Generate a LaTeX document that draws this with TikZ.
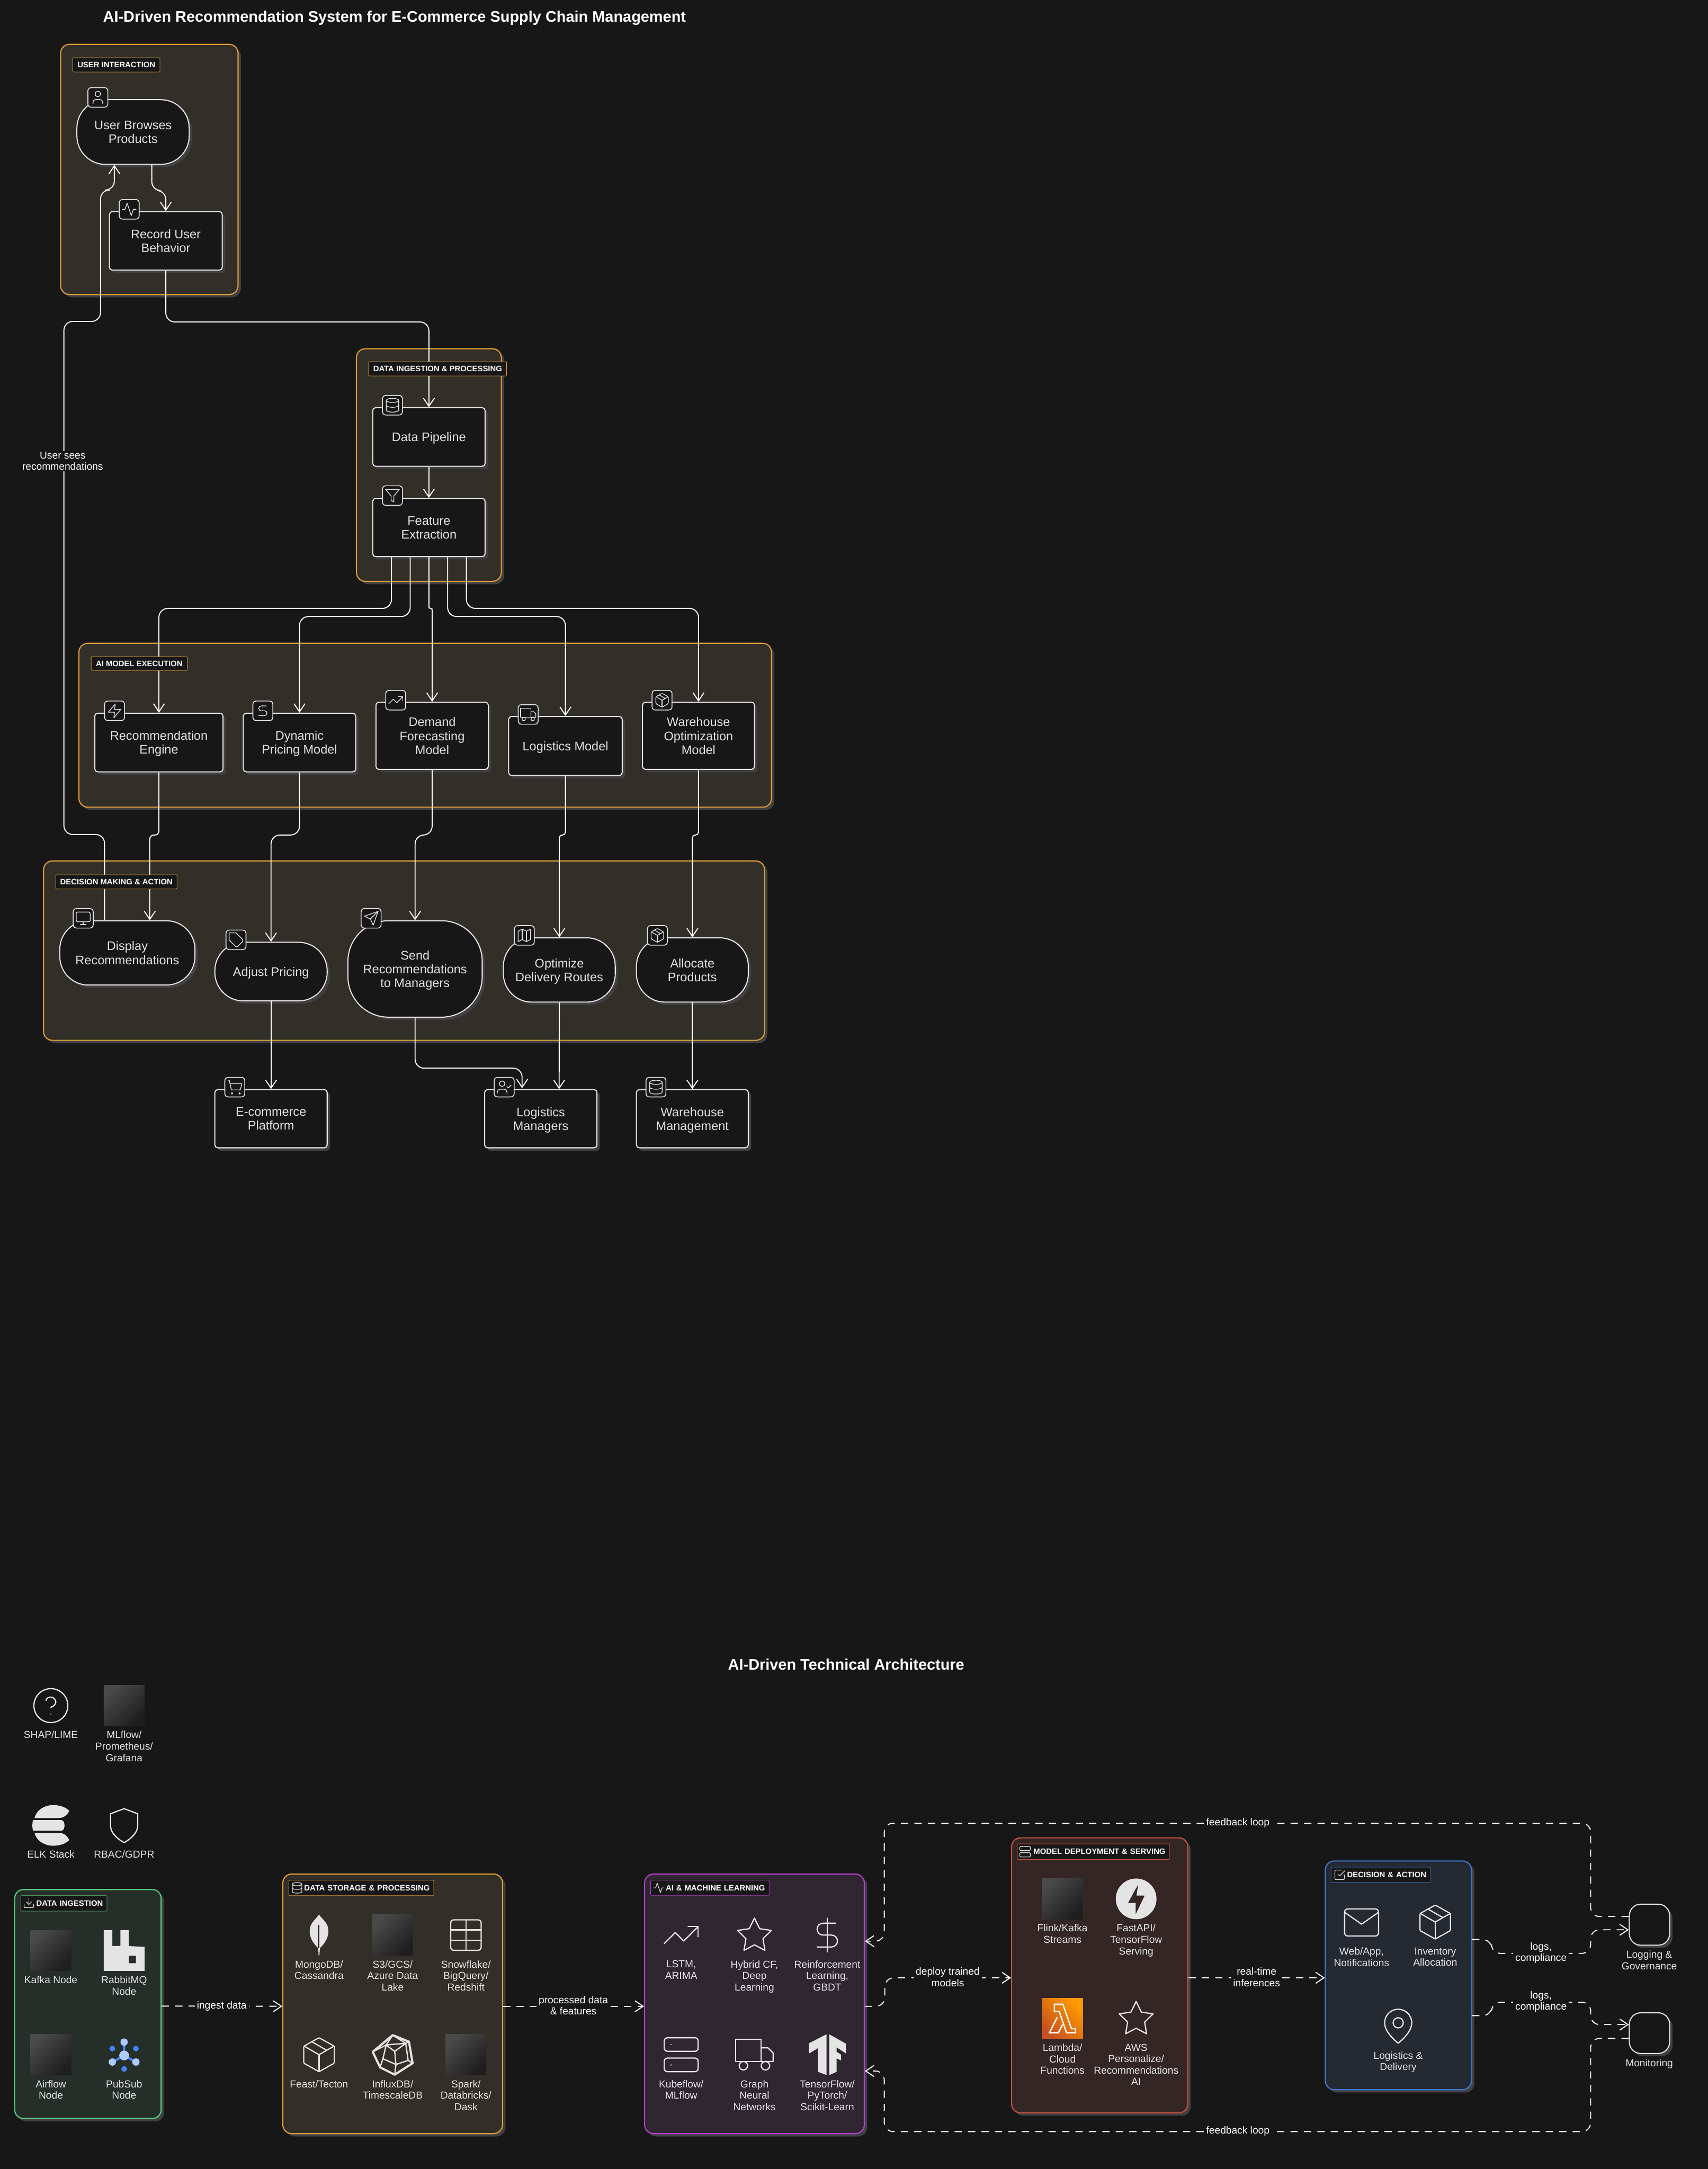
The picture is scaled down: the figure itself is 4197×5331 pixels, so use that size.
\documentclass[tikz,border=0pt]{standalone}
\usepackage{fontspec}
\setmainfont{Liberation Sans}
\usetikzlibrary{arrows.meta,shadows}
\definecolor{bgDark}{HTML}{171717}
\definecolor{shadowGrey}{HTML}{404042}
\definecolor{iconWhite}{HTML}{E4E4E4}
\definecolor{nodeText}{HTML}{E2E2E2}
\definecolor{panelOrange}{HTML}{DD9C37}
\definecolor{fillOrange}{HTML}{322F28}
\definecolor{panelGreen}{HTML}{5BCB7C}
\definecolor{fillGreen}{HTML}{262E29}
\definecolor{panelPurple}{HTML}{B63FCB}
\definecolor{fillPurple}{HTML}{2F2632}
\definecolor{panelRed}{HTML}{C9503F}
\definecolor{fillRed}{HTML}{352626}
\definecolor{panelBlue}{HTML}{3F78D0}
\definecolor{fillBlue}{HTML}{242932}
\definecolor{googleBlue}{HTML}{4285F4}
\definecolor{googleLight}{HTML}{AECBFA}
\definecolor{imgLight}{HTML}{4A4A4A}
\definecolor{imgDark}{HTML}{1E1E1E}
\definecolor{lambdaLight}{HTML}{FF9900}
\definecolor{lambdaDark}{HTML}{C7511F}
\tikzset{
  icon/.style={draw=iconWhite, line cap=round, line join=round, shift={(-12,-12)}},
  glyph/.style={fill=iconWhite, even odd rule},
  smallico/.style={scale=1.7, line width=0.5pt},
  tagico/.style={scale=1.3, line width=0.45pt},
  bigico/.style={scale=4.17, line width=0.85pt},
  iuser/.pic={\draw[icon] (12,7) circle[radius=4];
    \draw[icon] (19,21) -- (19,19) .. controls (19,16.8) and (17.2,15) .. (15,15) -- (9,15) .. controls (6.8,15) and (5,16.8) .. (5,19) -- (5,21);},
  iusercheck/.pic={\draw[icon] (9,7) circle[radius=4];
    \draw[icon] (16,21) -- (16,19) .. controls (16,16.8) and (14.2,15) .. (12,15) -- (6,15) .. controls (3.8,15) and (2,16.8) .. (2,19) -- (2,21);
    \draw[icon] (16,11) -- (18,13) -- (22,9);},
  iactivity/.pic={\draw[icon] (22,12) -- (18,12) -- (15,21) -- (9,3) -- (6,12) -- (2,12);},
  idatabase/.pic={\draw[icon] (12,5) ellipse[x radius=9,y radius=3];
    \draw[icon] (3,5) -- (3,19) .. controls (3,20.66) and (7,22) .. (12,22) .. controls (17,22) and (21,20.66) .. (21,19) -- (21,5);
    \draw[icon] (3,12) .. controls (3,13.66) and (7,15) .. (12,15) .. controls (17,15) and (21,13.66) .. (21,12);},
  ifilter/.pic={\draw[icon] (22,3) -- (2,3) -- (10,12.46) -- (10,19) -- (14,21) -- (14,12.46) -- cycle;},
  izap/.pic={\draw[icon] (13,2) -- (3,14) -- (12,14) -- (11,22) -- (21,10) -- (12,10) -- cycle;},
  idollar/.pic={\draw[icon] (12,2) -- (12,22);
    \draw[icon] (17,5) -- (9.5,5) .. controls (7.57,5) and (6,6.57) .. (6,8.5) .. controls (6,10.43) and (7.57,12) .. (9.5,12) -- (14.5,12) .. controls (16.43,12) and (18,13.57) .. (18,15.5) .. controls (18,17.43) and (16.43,19) .. (14.5,19) -- (6,19);},
  itrending/.pic={\draw[icon] (22,7) -- (13.5,15.5) -- (8.5,10.5) -- (2,17);
    \draw[icon] (16,7) -- (22,7) -- (22,13);},
  itruck/.pic={\draw[icon] (1,3) rectangle (16,16);
    \draw[icon] (16,8) -- (20,8) -- (23,11) -- (23,16) -- (16,16) -- cycle;
    \draw[icon] (5.5,18.5) circle[radius=2.5];
    \draw[icon] (18.5,18.5) circle[radius=2.5];},
  ipackage/.pic={\draw[icon, rounded corners=0.02cm] (12,2) -- (21,7) -- (21,17) -- (12,22) -- (3,17) -- (3,7) -- cycle;
    \draw[icon] (3.3,7) -- (12,12) -- (20.7,7);
    \draw[icon] (12,22) -- (12,12);
    \draw[icon] (16.5,9.4) -- (7.5,4.2);},
  imonitor/.pic={\draw[icon, rounded corners=0.03cm] (2,3) rectangle (22,17);
    \draw[icon] (8,21) -- (16,21);
    \draw[icon] (12,17) -- (12,21);},
  itag/.pic={\draw[icon] (12,2) -- (2,2) -- (2,12) -- (11.29,21.29) .. controls (12.23,22.23) and (13.77,22.23) .. (14.71,21.29) -- (21.29,14.71) .. controls (22.23,13.77) and (22.23,12.23) .. (21.29,11.29) -- cycle;},
  isend/.pic={\draw[icon] (22,2) -- (15,22) -- (11,13) -- (2,9) -- cycle;
    \draw[icon] (22,2) -- (11,13);},
  imap/.pic={\draw[icon] (3,6) -- (9,3) -- (15,6) -- (21,3) -- (21,18) -- (15,21) -- (9,18) -- (3,21) -- cycle;
    \draw[icon] (9,3) -- (9,18);
    \draw[icon] (15,6) -- (15,21);},
  icart/.pic={\draw[icon] (8,21) circle[radius=1];
    \draw[icon] (19,21) circle[radius=1];
    \draw[icon] (2.05,2.05) -- (4.05,2.05) -- (6.71,14.47) .. controls (6.9,15.4) and (7.75,16.05) .. (8.7,16.05) -- (18.48,16.05) .. controls (19.43,16.05) and (20.25,15.4) .. (20.43,14.48) -- (22.08,7.05) -- (5.12,7.05);},
  idownload/.pic={\draw[icon] (21,15) -- (21,19) .. controls (21,20.1) and (20.1,21) .. (19,21) -- (5,21) .. controls (3.9,21) and (3,20.1) .. (3,19) -- (3,15);
    \draw[icon] (7,10) -- (12,15) -- (17,10);
    \draw[icon] (12,15) -- (12,3);},
  icheck/.pic={\draw[icon] (9,11) -- (12,14) -- (22,4);
    \draw[icon] (21,12) -- (21,19) .. controls (21,20.1) and (20.1,21) .. (19,21) -- (5,21) .. controls (3.9,21) and (3,20.1) .. (3,19) -- (3,5) .. controls (3,3.9) and (3.9,3) .. (5,3) -- (16,3);},
  iserver/.pic={\draw[icon, rounded corners=#1] (2,2) rectangle (22,10);
    \draw[icon, rounded corners=#1] (2,14) rectangle (22,22);
    \draw[icon] (6,6) -- (6.01,6);
    \draw[icon] (6,18) -- (6.01,18);},
  ihelp/.pic={\draw[icon] (12,12) circle[radius=10];
    \draw[icon] (9.09,9) .. controls (9.5,7.5) and (11,6.8) .. (12.2,7) .. controls (13.8,7.2) and (15,8.6) .. (14.92,10) .. controls (14.92,12) and (12,13) .. (12,13);
    \draw[icon] (12,17) -- (12.01,17);},
  ishield/.pic={\draw[icon] (12,22) .. controls (12,22) and (20,18) .. (20,12) -- (20,5) -- (12,2) -- (4,5) -- (4,12) .. controls (4,18) and (12,22) .. (12,22) -- cycle;},
  itable/.pic={\draw[icon, rounded corners=0.08cm] (3,3) rectangle (21,21);
    \draw[icon] (3,9) -- (21,9);
    \draw[icon] (3,15) -- (21,15);
    \draw[icon] (12,3) -- (12,21);},
  istar/.pic={\draw[icon] (12,2) -- (15.09,8.26) -- (22,9.27) -- (17,14.14) -- (18.18,21.02) -- (12,17.77) -- (5.82,21.02) -- (7,14.14) -- (2,9.27) -- (8.91,8.26) -- cycle;},
  imail/.pic={\draw[icon, rounded corners=0.08cm] (2,4) rectangle (22,20);
    \draw[icon] (22,6) -- (12,13) -- (2,6);},
  ipin/.pic={\draw[icon] (20,10) .. controls (20,16) and (12,22) .. (12,22) .. controls (12,22) and (4,16) .. (4,10) .. controls (4,5.58) and (7.58,2) .. (12,2) .. controls (16.42,2) and (20,5.58) .. (20,10) -- cycle;
    \draw[icon] (12,10) circle[radius=3];},
  ielk/.pic={\fill[glyph] (-40,-18) .. controls (-36,-38) and (-15,-50) .. (5,-50) .. controls (22,-50) and (36,-45) .. (45,-36) .. controls (40,-24) and (30,-18) .. (18,-18) -- cycle;
    \fill[glyph] (-44,-13) -- (26,-13) .. controls (36,-13) and (36,13) .. (26,13) -- (-44,13) .. controls (-46,5) and (-46,-5) .. (-44,-13) -- cycle;
    \fill[glyph] (-40,18) .. controls (-36,38) and (-15,50) .. (5,50) .. controls (22,50) and (36,45) .. (45,36) .. controls (40,24) and (30,18) .. (18,18) -- cycle;},
  irabbit/.pic={\fill[glyph] (-50,-50) -- (-29,-50) -- (-29,-11) -- (-9,-11) -- (-9,-50) -- (11,-50) -- (11,-11) -- (31,-10) -- (50,-9) -- (50,50) -- (-50,50) -- cycle
    (11,13) -- (29,13) -- (29,31) -- (11,31) -- cycle;},
  ipubsub/.pic={\draw[line width=1.6pt, color=googleBlue] (0,-33) -- (0,0) -- (-28,16) (0,0) -- (29,16);
    \fill[googleLight] (0,0) circle[radius=12];
    \fill[googleLight] (0,-33) circle[radius=9];
    \fill[googleLight] (-29,16) circle[radius=9];
    \fill[googleLight] (29,16) circle[radius=9];
    \fill[googleBlue] (-29,-17) circle[radius=7];
    \fill[googleBlue] (29,-17) circle[radius=7];
    \fill[googleBlue] (0,33) circle[radius=7];},
  imongo/.pic={\fill[glyph] (0,-50) .. controls (12,-35) and (23,-28) .. (23,-10) .. controls (23,12) and (8,26) .. (2,32) -- (1,50) -- (-1,50) -- (-2,32) .. controls (-8,26) and (-23,12) .. (-23,-10) .. controls (-23,-28) and (-12,-35) .. (0,-50) -- cycle;
    \draw[color=bgDark, line width=0.7pt] (0,-25) -- (0,32);},
  iinflux/.pic={\draw[draw=iconWhite, line width=1.5pt, line join=round] (0,-48) -- (40,-32) -- (49,21) -- (5,49) -- (-31,31) -- (-49,-7) -- cycle;
    \draw[draw=iconWhite, line width=0.9pt, line join=round] (-16,-24) -- (32,-28) -- (38,14) -- (8,24) -- (-24,10) -- cycle
      (0,-48) -- (-16,-24) (0,-48) -- (32,-28) (40,-32) -- (32,-28) (49,21) -- (38,14) (5,49) -- (8,24) (-31,31) -- (-24,10) (-49,-7) -- (-16,-24) (8,24) -- (5,-8) -- (-16,-24) (5,-8) -- (32,-28);},
  itensor/.pic={\fill[glyph] (-45,-28) -- (-2,-50) -- (-2,50) -- (-23,42) -- (-23,-16) -- (-45,-3) -- cycle;
    \fill[glyph] (5,-50) -- (46,-27) -- (46,-3) -- (23,-18) -- (23,-7) -- (34,0) -- (34,14) -- (23,9) -- (23,42) -- (5,50) -- cycle;},
  ifastapi/.pic={\fill[glyph] (0,0) circle[radius=50]
    (5,-36) -- (-20,10) -- (-1,10) -- (-1,38) -- (21,-8) -- (1,-8) -- cycle;},
  ilambda/.pic={\draw[draw=white, line width=0.9pt, line join=miter] (-20,-35) -- (1,-35) -- (22,25) -- (32,25) -- (32,35) -- (10,35) -- (-8,-17) -- (-20,-17) -- cycle
    (-13,-3) -- (-32,35) -- (-10,35) -- (0,15);}
}
\begin{document}
\begin{tikzpicture}[
    x=0.01cm, y=-0.01cm,
    size/.style 2 args={minimum width=#1*0.01cm, minimum height=#2*0.01cm},
    softdrop/.style={general shadow={fill=shadowGrey, shadow xshift=0.07cm, shadow yshift=-0.07cm}},
    panel/.style={rectangle, softdrop, inner sep=0pt, rounded corners=0.22cm, line width=0.8pt},
    orange panel/.style={panel, draw=panelOrange, fill=fillOrange},
    box/.style={rectangle, softdrop, draw=iconWhite, fill=bgDark, text=nodeText, rounded corners=0.07cm, inner sep=0pt, line width=0.75pt, align=center, text depth=-0.05cm, font=\fontsize{8.7}{9.67}\selectfont},
    round box/.style={box, rounded corners=0.7cm},
    iconbox/.style={rectangle, draw=iconWhite, fill=bgDark, rounded corners=0.08cm, inner sep=0pt, minimum width=0.49cm, minimum height=0.48cm, line width=0.6pt},
    tagbox/.style={rectangle, fill=bgDark, text=white, inner sep=0pt, line width=0.3pt, rounded corners=0.02cm, font=\fontsize{5.5}{6.5}\selectfont\bfseries},
    icontag/.style={tagbox, inner xsep=0.1cm, align=right, text width=#1*0.01cm-0.2cm, minimum height=0.38cm},
    flow/.style={draw=white, line width=0.7pt, rounded corners=0.22cm, -{Straight Barb[length=0.2cm,width=0.27cm]}},
    dflow/.style={flow, dash pattern=on 0.18cm off 0.15cm},
    edgelabel/.style={rectangle, fill=bgDark, text=white, inner xsep=0.05cm, inner ysep=0.02cm, align=center, font=\fontsize{7.1}{7.97}\selectfont},
    caption/.style={text=iconWhite, inner sep=0pt, anchor=north, align=center, font=\fontsize{7.1}{7.97}\selectfont},
    blank/.style={rectangle, minimum width=1cm, minimum height=1cm, inner sep=0pt, shading=axis, top color=imgLight, bottom color=imgDark, shading angle=45},
    title/.style={text=white, inner sep=0pt, font=\fontsize{10.7}{12}\selectfont\bfseries}
]
\useasboundingbox (0,0) rectangle (4197,5331);
\fill[bgDark] (0,0) rectangle (4197,5331);

\node[title] (topTitle) at (969.5,44) {AI-Driven Recommendation System for E-Commerce Supply Chain Management};

\node[orange panel, size={436}{615}] (userPanel) at (367,416.5) {};
\node[orange panel, size={356}{572}] (dataPanel) at (1054,1143) {};
\node[orange panel, size={1702}{403}] (aiPanel) at (1045,1782.5) {};
\node[orange panel, size={1772}{441}] (decisionPanel) at (993,2336.5) {};

\node[round box, size={276}{159}] (user) at (327,324.5) {User Browses\\Products};
\node[box, size={277}{144}] (record) at (407.5,592) {Record User\\Behavior};
\node[box, size={276}{144}] (pipeline) at (1054,1074) {Data Pipeline};
\node[box, size={276}{143}] (feature) at (1054,1296.5) {Feature\\Extraction};
\node[box, size={315}{144}] (recommendation) at (390.5,1825) {Recommendation\\Engine};
\node[box, size={276}{144}] (dynamic) at (736,1825) {Dynamic\\Pricing Model};
\node[box, size={276}{165}] (demand) at (1062,1808.5) {Demand\\Forecasting\\Model};
\node[box, size={279}{145}] (logisticsModel) at (1389.5,1833.5) {Logistics Model};
\node[box, size={275}{165}] (warehouseModel) at (1716.5,1808.5) {Warehouse\\Optimization\\Model};
\node[round box, size={332}{158}] (display) at (313,2342) {Display\\Recommendations};
\node[round box, size={276}{144}] (adjust) at (666,2388) {Adjust Pricing};
\node[round box, rounded corners=1cm, size={330}{237}] (send) at (1020,2381.5) {Send\\Recommendations\\to Managers};
\node[round box, size={275}{158}] (optimize) at (1374.5,2384) {Optimize\\Delivery Routes};
\node[round box, size={275}{158}] (allocate) at (1701.5,2384) {Allocate\\Products};
\node[box, size={276}{143}] (ecommerce) at (666,2749.5) {E-commerce\\Platform};
\node[box, size={276}{143}] (managers) at (1329,2749.5) {Logistics\\Managers};
\node[box, size={275}{143}] (warehouse) at (1701.5,2749.5) {Warehouse\\Management};

\draw[flow] ([xshift=0.46cm]user.south) -- ++(0,63) -| (record.north);
\draw[flow] (record.south) -- ++(0,126) -| (pipeline.north);
\draw[flow] (pipeline.south) -- (feature.north);
\draw[flow] ([xshift=-0.92cm]feature.south) -- ++(0,126) -| (recommendation.north);
\draw[flow] ([xshift=-0.46cm]feature.south) -- ++(0,146) -| (dynamic.north);
\draw[flow, rounded corners=0.04cm] (feature.south) -- ++(0,126) -| (demand.north);
\draw[flow] ([xshift=0.46cm]feature.south) -- ++(0,146) -| (logisticsModel.north);
\draw[flow] ([xshift=0.92cm]feature.south) -- ++(0,126) -| (warehouseModel.north);
\draw[flow, rounded corners=0.1cm] (recommendation.south) -- ++(0,154) -| ([xshift=0.55cm]display.north);
\draw[flow] (dynamic.south) -- ++(0,154) -| (adjust.north);
\draw[flow] (demand.south) -- ++(0,160) -| (send.north);
\draw[flow, rounded corners=0.07cm] (logisticsModel.south) -- ++(0,145) -| (optimize.north);
\draw[flow, rounded corners=0.07cm] (warehouseModel.south) -- ++(0,160) -| (allocate.north);
\draw[flow] ([xshift=-0.56cm]display.north) |- (157,2051) |- (247,790) |- (281,467) -- ([xshift=-0.46cm]user.south);
\draw[flow] (adjust.south) -- (ecommerce.north);
\draw[flow] (send.south) -- ++(0,124) -| ([xshift=-0.46cm,yshift=0.02cm]managers.north);
\draw[flow] (optimize.south) -- ([xshift=0.45cm]managers.north);
\draw[flow] (allocate.south) -- (warehouse.north);

\node[edgelabel] (seesLabel) at (154,1133) {User sees\\recommendations};

\node[tagbox, draw=panelOrange, size={214}{35}] (userTag) at (286,159.5) {USER INTERACTION};
\node[tagbox, draw=panelOrange, size={339}{35}] (dataTag) at (1075.5,906.5) {DATA INGESTION \& PROCESSING};
\node[tagbox, draw=panelOrange, size={236}{34}] (aiTag) at (342,1631) {AI MODEL EXECUTION};
\node[tagbox, draw=panelOrange, size={298}{35}] (decisionTag) at (286,2167.5) {DECISION MAKING \& ACTION};

\node[iconbox] (userIcon) at (240.5,239.5) {}; \pic[smallico] at (userIcon) {iuser};
\node[iconbox] (recordIcon) at (317.5,514.5) {}; \pic[smallico] at (recordIcon) {iactivity};
\node[iconbox] (pipelineIcon) at (964.5,996) {}; \pic[smallico] at (pipelineIcon) {idatabase};
\node[iconbox] (featureIcon) at (964.5,1218) {}; \pic[smallico] at (featureIcon) {ifilter};
\node[iconbox] (recommendationIcon) at (281.5,1747) {}; \pic[smallico] at (recommendationIcon) {izap};
\node[iconbox] (dynamicIcon) at (646,1747) {}; \pic[smallico] at (dynamicIcon) {idollar};
\node[iconbox] (demandIcon) at (972.5,1721) {}; \pic[smallico] at (demandIcon) {itrending};
\node[iconbox] (logisticsIcon) at (1298,1756) {}; \pic[smallico] at (logisticsIcon) {itruck};
\node[iconbox] (warehouseIcon) at (1627,1721) {}; \pic[smallico] at (warehouseIcon) {ipackage};
\node[iconbox] (displayIcon) at (204.5,2257) {}; \pic[smallico] at (displayIcon) {imonitor};
\node[iconbox] (adjustIcon) at (580,2310) {}; \pic[smallico] at (adjustIcon) {itag};
\node[iconbox] (sendIcon) at (912,2257) {}; \pic[smallico] at (sendIcon) {isend};
\node[iconbox] (optimizeIcon) at (1288.5,2299) {}; \pic[smallico] at (optimizeIcon) {imap};
\node[iconbox] (allocateIcon) at (1615.5,2299) {}; \pic[smallico] at (allocateIcon) {ipackage};
\node[iconbox] (ecommerceIcon) at (577,2672) {}; \pic[smallico] at (ecommerceIcon) {icart};
\node[iconbox] (managersIcon) at (1239,2672) {}; \pic[smallico] at (managersIcon) {iusercheck};
\node[iconbox] (warehouseMgmtIcon) at (1612,2672) {}; \pic[smallico] at (warehouseMgmtIcon) {idatabase};

\node[title] (bottomTitle) at (2079.5,4091) {AI-Driven Technical Architecture};

\pic[bigico] at (125,4192) {ihelp};
\node[caption] (shap) at (125,4254) {SHAP/LIME};
\node[blank] (mlflowImg) at (305,4192) {};
\node[caption] (mlflow) at (305,4254) {MLflow/\\Prometheus/\\Grafana};
\pic at (125,4486.5) {ielk};
\node[caption] (elk) at (125,4547) {ELK Stack};
\pic[bigico] at (305,4487) {ishield};
\node[caption] (rbac) at (305,4547) {RBAC/GDPR};

\node[panel, draw=panelGreen, fill=fillGreen, size={360}{563}] (ingestPanel) at (216,4925.5) {};
\node[orange panel, size={540}{638}] (storagePanel) at (965,4925) {};
\node[panel, draw=panelPurple, fill=fillPurple, size={540}{638}] (mlPanel) at (1854,4925) {};
\node[panel, draw=panelRed, fill=fillRed, size={433}{676}] (deployPanel) at (2702.5,4855) {};
\node[panel, draw=panelBlue, fill=fillBlue, size={359}{562}] (actionPanel) at (3436.5,4855) {};
\node[box, rounded corners=0.28cm, size={99}{101}] (logging) at (4053.5,4730.5) {};
\node[box, rounded corners=0.28cm, size={99}{100}] (monitoring) at (4053.5,4997) {};

\draw[dflow] ([yshift=-0.05cm]ingestPanel.east) -- ([yshift=-0.06cm]storagePanel.west);
\draw[dflow] ([yshift=-0.06cm]storagePanel.east) -- ([yshift=-0.06cm]mlPanel.west);
\draw[dflow] ([yshift=-0.06cm]mlPanel.east) -- ++(49,0) |- ([yshift=-0.06cm]deployPanel.west);
\draw[dflow] ([yshift=-0.06cm]deployPanel.east) -- ([yshift=-0.06cm]actionPanel.west);
\draw[dflow] ([yshift=0.88cm]actionPanel.east) -- ++(48,0) |- (3909,4801) |- ([yshift=-0.125cm]logging.west);
\draw[dflow] ([yshift=-0.99cm]actionPanel.east) -- ++(48,0) |- (3909,4921) |- ([yshift=0.21cm]monitoring.west);
\draw[dflow] ([yshift=0.2cm]logging.west) -| (3909,4481) -| (2173,4771) -- ([yshift=1.54cm]mlPanel.east);
\draw[dflow] ([yshift=-0.13cm]monitoring.west) -| (3909,5239) -| (2173,5090) -- ([yshift=-1.65cm]mlPanel.east);

\node[edgelabel] (ingestLabel) at (545,4931) {ingest data};
\node[edgelabel] (processedLabel) at (1409,4929) {processed data\\\& features};
\node[edgelabel] (deployLabel) at (2329,4859) {deploy trained\\models};
\node[edgelabel] (realtimeLabel) at (3088,4859) {real-time\\inferences};
\node[edgelabel] (logsTopLabel) at (3787,4800) {logs,\\compliance};
\node[edgelabel] (logsBottomLabel) at (3787,4920) {logs,\\compliance};
\node[edgelabel] (feedbackTopLabel) at (3042,4480) {feedback loop};
\node[edgelabel] (feedbackBottomLabel) at (3042,5238) {feedback loop};

\node[icontag=212, draw=panelGreen] (ingestTag) at (157,4678) {DATA INGESTION};
\pic[tagico] at (71,4677) {idownload};
\node[blank] (kafkaImg) at (125,4794) {};
\node[caption] (kafka) at (125,4856) {Kafka Node};
\pic at (305,4794) {irabbit};
\node[caption] (rabbit) at (305,4856) {RabbitMQ\\Node};
\node[blank] (airflowImg) at (125,5050) {};
\node[caption] (airflow) at (125,5112) {Airflow\\Node};
\pic at (305,5052) {ipubsub};
\node[caption] (pubsub) at (305,5112) {PubSub\\Node};

\node[icontag=356, draw=panelOrange] (storageTag) at (888,4640) {DATA STORAGE \& PROCESSING};
\pic[tagico] at (730,4640) {idatabase};
\pic at (784,4756) {imongo};
\node[caption] (mongo) at (784,4818) {MongoDB/\\Cassandra};
\node[blank] (lakeImg) at (965,4756) {};
\node[caption] (lake) at (965,4818) {S3/GCS/\\Azure Data\\Lake};
\pic[bigico] at (1145,4756) {itable};
\node[caption] (snowflake) at (1145,4818) {Snowflake/\\BigQuery/\\Redshift};
\pic[bigico] at (784,5050) {ipackage};
\node[caption] (feast) at (784,5112) {Feast/Tecton};
\pic at (965,5050) {iinflux};
\node[caption] (influx) at (965,5112) {InfluxDB/\\TimescaleDB};
\node[blank] (sparkImg) at (1145,5050) {};
\node[caption] (spark) at (1145,5112) {Spark/\\Databricks/\\Dask};

\node[icontag=291, draw=panelPurple] (mlTag) at (1744.5,4640) {AI \& MACHINE LEARNING};
\pic[tagico] at (1619,4640) {iactivity};
\pic[bigico] at (1674,4756) {itrending};
\node[caption] (lstm) at (1674,4818) {LSTM,\\ARIMA};
\pic[bigico] at (1854,4756) {istar};
\node[caption] (hybrid) at (1854,4818) {Hybrid CF,\\Deep\\Learning};
\pic[bigico] at (2033,4756) {idollar};
\node[caption] (reinforcement) at (2033,4818) {Reinforcement\\Learning,\\GBDT};
\pic[bigico] at (1674,5050) {iserver=0.08cm};
\node[caption] (kubeflow) at (1674,5112) {Kubeflow/\\MLflow};
\pic[bigico] at (1854,5050) {itruck};
\node[caption] (graph) at (1854,5112) {Graph\\Neural\\Networks};
\pic at (2033,5050) {itensor};
\node[caption] (tensorflow) at (2033,5112) {TensorFlow/\\PyTorch/\\Scikit-Learn};

\node[icontag=374, draw=panelRed] (deployTag) at (2687,4551) {MODEL DEPLOYMENT \& SERVING};
\pic[tagico] at (2519,4551) {iserver=0.02cm};
\node[blank] (flinkImg) at (2611,4667) {};
\node[caption] (flink) at (2611,4729) {Flink/Kafka\\Streams};
\pic at (2792,4667) {ifastapi};
\node[caption] (fastapi) at (2792,4729) {FastAPI/\\TensorFlow\\Serving};
\node[blank, top color=lambdaLight, bottom color=lambdaDark, shading angle=-45] (lambdaImg) at (2611,4961) {};
\pic at (lambdaImg) {ilambda};
\node[caption] (lambda) at (2611,5023) {Lambda/\\Cloud\\Functions};
\pic[bigico] at (2792,4961) {istar};
\node[caption] (personalize) at (2792,5023) {AWS\\Personalize/\\Recommendations\\AI};

\node[icontag=244, draw=panelBlue] (actionTag) at (3393,4608) {DECISION \& ACTION};
\pic[tagico] at (3292,4608) {icheck};
\pic[bigico] at (3346,4725) {imail};
\node[caption] (web) at (3346,4786) {Web/App,\\Notifications};
\pic[bigico] at (3527,4724) {ipackage};
\node[caption] (inventory) at (3527,4786) {Inventory\\Allocation};
\pic[bigico] at (3436,4980) {ipin};
\node[caption] (delivery) at (3436,5042) {Logistics \&\\Delivery};

\node[caption] (loggingCap) at (4053,4794) {Logging \&\\Governance};
\node[caption] (monitoringCap) at (4053,5060) {Monitoring};
\end{tikzpicture}
\end{document}
